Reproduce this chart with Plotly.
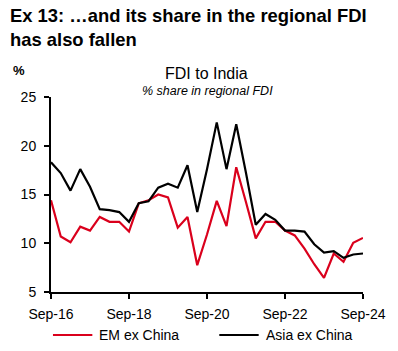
import plotly.graph_objects as go

quarters = ["Sep-16","Dec-16","Mar-17","Jun-17","Sep-17","Dec-17","Mar-18","Jun-18",
            "Sep-18","Dec-18","Mar-19","Jun-19","Sep-19","Dec-19","Mar-20","Jun-20",
            "Sep-20","Dec-20","Mar-21","Jun-21","Sep-21","Dec-21","Mar-22","Jun-22",
            "Sep-22","Dec-22","Mar-23","Jun-23","Sep-23","Dec-23","Mar-24","Jun-24","Sep-24"]
em_ex_china = [14.4, 10.7, 10.1, 11.7, 11.3, 12.7, 12.2, 12.2, 11.2, 14.1, 14.4, 15.0, 14.7,
               11.6, 12.7, 7.75, 10.9, 14.35, 11.75, 17.8, 14.2, 10.5, 12.2, 12.2, 11.3,
               10.8, 9.45, 7.85, 6.45, 8.95, 8.1, 10.05, 10.55]
asia_ex_china = [18.3, 17.2, 15.4, 17.6, 15.8, 13.5, 13.4, 13.2, 12.2, 14.1, 14.3, 15.7, 16.1,
                 15.7, 18.0, 13.2, 17.6, 22.4, 17.6, 22.2, 17.2, 11.9, 13.0, 12.4, 11.3,
                 11.3, 11.2, 9.9, 9.05, 9.2, 8.5, 8.85, 8.95]
series_names = ["EM ex China", "Asia ex China"]
x_tick_labels = ["Sep-16", "Sep-18", "Sep-20", "Sep-22", "Sep-24"]
y_ticks = [5, 10, 15, 20, 25]

FONT = "Arial, Liberation Sans, sans-serif"
RED = "#DA001C"
BLACK = "#000000"
colors = [RED, BLACK]

idx = list(range(len(quarters)))
tick_pos = [quarters.index(t) for t in x_tick_labels]

# plot area in pixels
W, H = 398, 351
L, R, T, B = 51, 368, 97, 292
PW, PH = R - L, B - T
def px(x):
    return (x - L) / PW
def py(y):
    return (B - y) / PH

fig = go.Figure()
for name, vals, col in zip(series_names, [em_ex_china, asia_ex_china], colors):
    fig.add_trace(go.Scatter(x=idx, y=vals, mode="lines", name=name,
                             line=dict(color=col, width=2.2), hovertext=quarters))

# legend drawn as line samples + labels below the axis
legend_line_x = [(53, 93), (222, 262)]
legend_y = 335
shapes = []
annotations = []
for (x0, x1), name, col in zip(legend_line_x, series_names, colors):
    shapes.append(dict(type="line", xref="paper", yref="paper", x0=px(x0), x1=px(x1),
                       y0=py(legend_y), y1=py(legend_y), line=dict(color=col, width=2.2)))
    annotations.append(dict(text=name, xref="paper", yref="paper", x=px(x1 + 5),
                            y=py(legend_y), xanchor="left", yanchor="middle",
                            showarrow=False, font=dict(size=14)))

annotations += [
    dict(text="<b>Ex 13: …and its share in the regional FDI<br>has also fallen</b>",
         xref="paper", yref="paper", x=px(7), y=py(3), xanchor="left", yanchor="top",
         align="left", showarrow=False, font=dict(size=18.4)),
    dict(text="<b>%</b>", xref="paper", yref="paper", x=px(18), y=py(70),
         xanchor="center", yanchor="middle", showarrow=False, font=dict(size=13)),
    dict(text="FDI to India", xref="paper", yref="paper", x=px(209), y=py(73),
         xanchor="center", yanchor="middle", showarrow=False, font=dict(size=16)),
    dict(text="<i>% share in regional FDI</i>", xref="paper", yref="paper",
         x=px(210), y=py(91), xanchor="center", yanchor="middle",
         showarrow=False, font=dict(size=12.5)),
]

fig.update_layout(
    width=W, height=H,
    margin=dict(l=L, r=W - R, t=T, b=H - B),
    plot_bgcolor="white", paper_bgcolor="white",
    font=dict(family=FONT, color="#000000", size=14),
    showlegend=False,
    xaxis=dict(range=[0, 32], tickmode="array", tickvals=tick_pos, ticktext=x_tick_labels,
               showgrid=False, zeroline=False, showline=True, linecolor="#000000",
               linewidth=2, ticks="outside", ticklen=5, tickwidth=2, tickcolor="#000000",
               tickfont=dict(size=14), ticklabelstandoff=3),
    yaxis=dict(range=[5, 25], tickmode="array", tickvals=y_ticks,
               showgrid=False, zeroline=False, showline=True, linecolor="#000000",
               linewidth=2, ticks="outside", ticklen=5, tickwidth=2, tickcolor="#000000",
               tickfont=dict(size=14), ticklabelstandoff=5),
    shapes=shapes,
    annotations=annotations,
)

fig.write_html("out.html")
